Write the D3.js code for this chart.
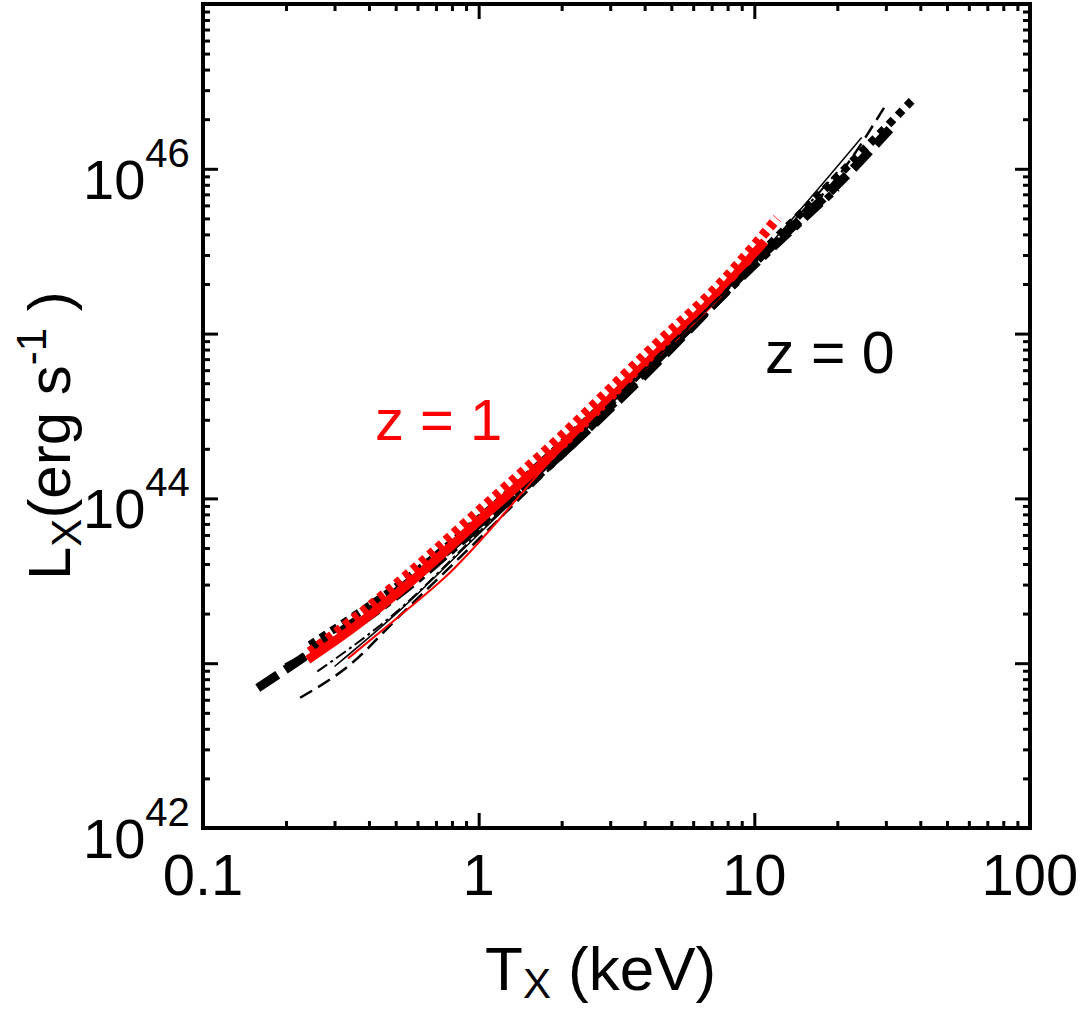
<!DOCTYPE html>
<html>
<head>
<meta charset="utf-8">
<script src="https://cdn.jsdelivr.net/npm/d3@7"></script>
<style>
body { margin: 0; background: #fff; }
text { font-family: "Liberation Sans", Arial, sans-serif; }
</style>
</head>
<body>
<div id="chart"></div>
<script>
// axis ticks
const tempTicks = [0.1, 1, 10, 100];
const tempTickLabels = ["0.1", "1", "10", "100"];
const lumDecades = [1e42, 1e43, 1e44, 1e45, 1e46, 1e47];
const lumLabelExps = [42, 44, 46];

// z = 0 curves (black)
const z0DashT = [0.158, 0.225, 0.341, 0.519, 1.01, 1.97, 4.18, 10, 22.2, 31];
const z0DashL = [7.08e42, 1.05e43, 1.70e43, 2.82e43, 7.08e43, 1.82e44, 6.03e44, 2.69e45, 9.55e45, 1.74e46];
const z0DotT = [0.244, 0.341, 0.519, 1.01, 1.97, 4.18, 10, 22.2, 37.6];
const z0DotL = [1.29e43, 1.86e43, 3.02e43, 7.59e43, 2.09e44, 6.92e44, 2.82e45, 1.07e46, 2.63e46];
const z0DashDotT = [0.2, 0.341, 0.519, 1.01, 1.97, 4.18, 10, 20];
const z0DashDotL = [9.55e42, 1.58e43, 2.63e43, 6.76e43, 1.78e44, 6.17e44, 2.57e45, 7.59e45];
const z0ThinDashT = [0.225, 0.341, 0.519, 1.01, 1.97, 4.18, 10, 22.2, 29.8];
const z0ThinDashL = [6.17e42, 9.77e42, 1.95e43, 5.75e43, 1.74e44, 6.31e44, 2.75e45, 1.12e46, 2.40e46];
const z0ThinT = [0.3, 0.519, 1.01, 1.97, 4.18, 10, 24.5];
const z0ThinL = [9.55e42, 2.1e43, 6.17e43, 1.82e44, 6.46e44, 2.75e45, 1.55e46];
const z0ThinDashDotT = [0.26, 0.519, 1.01, 1.97, 4.18, 10, 20];
const z0ThinDashDotL = [8.91e42, 2.14e43, 6.31e43, 1.86e44, 6.61e44, 2.69e45, 9.55e45];

// z = 1 curves (red)
const z1DotT = [0.244, 0.341, 0.519, 1.01, 1.97, 4.18, 7.5, 12.1];
const z1DotL = [1.17e43, 1.78e43, 3.16e43, 8.51e43, 2.34e44, 7.94e44, 2.0e45, 5.01e45];
const z1SolidT = [0.24, 0.341, 0.519, 1.01, 1.97, 4.18, 7.5, 10.9];
const z1SolidL = [1.05e43, 1.58e43, 2.75e43, 7.41e43, 2.04e44, 6.92e44, 1.78e45, 3.63e45];
const z1ThinT = [0.336, 0.519, 0.743, 1.97, 4.18, 9.25];
const z1ThinL = [1.07e43, 1.95e43, 3.24e43, 1.95e44, 6.92e44, 2.75e45];

const LEFT = 203;
const TOP = 4;
const WIDTH = 827;
const HEIGHT = 824;

function pairs(ts, ls) {
    return ts.map((t, i) => ({ t: t, l: ls[i] }));
}

const series = [
    { pts: pairs(z0DashT, z0DashL), color: "#000", width: 9, dash: "24,9" },
    { pts: pairs(z0DashDotT, z0DashDotL), color: "#000", width: 7, dash: "22,7,7,7" },
    { pts: pairs(z0DotT, z0DotL), color: "#000", width: 8, dash: "7,6" },
    { pts: pairs(z1SolidT, z1SolidL), color: "#ff0000", width: 9, dash: null },
    { pts: pairs(z1DotT, z1DotL), color: "#ff0000", width: 10, dash: "6,5" },
    { pts: pairs(z0ThinDashT, z0ThinDashL), color: "#000", width: 2.5, dash: "14,7" },
    { pts: pairs(z0ThinT, z0ThinL), color: "#000", width: 1.5, dash: null },
    { pts: pairs(z0ThinDashDotT, z0ThinDashDotL), color: "#000", width: 2, dash: "12,4,3,4" },
    { pts: pairs(z1ThinT, z1ThinL), color: "#ff0000", width: 2, dash: null }
];

let svg = d3.select("#chart")
    .append("svg")
    .attr("width", 1080)
    .attr("height", 1013)
    .append("g")
    .attr("transform", "translate(" + LEFT + "," + TOP + ")");

let xScale = d3.scaleLog().domain([0.1, 100]).range([0, WIDTH]);
let yScale = d3.scaleLog().domain([1e42, 1e47]).range([HEIGHT, 0]);

// minor ticks (2..9 of every decade)
let xMinor = xScale.ticks().filter(v => !tempTicks.includes(v));
let yMinor = yScale.ticks().filter(v => !lumDecades.some(d => Math.abs(d / v - 1) < 1e-6));

function tickAxis(axisFn, scale, values, size, transform) {
    let g = svg.append("g")
        .attr("transform", transform)
        .call(axisFn(scale).tickValues(values).tickSizeInner(-size).tickSizeOuter(0).tickFormat(""));
    g.select(".domain").remove();
    g.selectAll("line").attr("stroke", "#000").attr("stroke-width", 3);
    return g;
}

tickAxis(d3.axisBottom, xScale, tempTicks, 15, "translate(0," + HEIGHT + ")");
tickAxis(d3.axisBottom, xScale, xMinor, 7, "translate(0," + HEIGHT + ")");
tickAxis(d3.axisTop, xScale, tempTicks, 15, "translate(0,0)");
tickAxis(d3.axisTop, xScale, xMinor, 7, "translate(0,0)");
tickAxis(d3.axisLeft, yScale, lumDecades, 15, "translate(0,0)");
tickAxis(d3.axisLeft, yScale, yMinor, 7, "translate(0,0)");
tickAxis(d3.axisRight, yScale, lumDecades, 15, "translate(" + WIDTH + ",0)");
tickAxis(d3.axisRight, yScale, yMinor, 7, "translate(" + WIDTH + ",0)");

// curves
svg.append("clipPath").attr("id", "plot-clip")
    .append("rect").attr("width", WIDTH).attr("height", HEIGHT);

let line = d3.line()
    .x(d => xScale(d.t))
    .y(d => yScale(d.l))
    .curve(d3.curveMonotoneX);

svg.append("g")
    .attr("clip-path", "url(#plot-clip)")
    .selectAll("path")
    .data(series)
    .enter()
    .append("path")
    .attr("d", d => line(d.pts))
    .attr("fill", "none")
    .attr("stroke", d => d.color)
    .attr("stroke-width", d => d.width)
    .attr("stroke-dasharray", d => d.dash)
    .attr("stroke-linecap", "butt");

// frame
svg.append("rect")
    .attr("width", WIDTH)
    .attr("height", HEIGHT)
    .attr("fill", "none")
    .attr("stroke", "#000")
    .attr("stroke-width", 4);

// x tick labels
svg.append("g")
    .selectAll("text")
    .data(tempTicks)
    .enter()
    .append("text")
    .attr("x", d => xScale(d))
    .attr("y", HEIGHT + 67)
    .attr("text-anchor", "middle")
    .attr("font-size", 58)
    .text((d, i) => tempTickLabels[i]);

// y tick labels 10^n
let yLabels = svg.append("g")
    .selectAll("text")
    .data(lumLabelExps)
    .enter()
    .append("text")
    .attr("x", 83 - LEFT)
    .attr("y", d => yScale(Math.pow(10, d)) + 30)
    .attr("font-size", 56);
yLabels.append("tspan").text("10");
yLabels.append("tspan")
    .attr("dy", -32)
    .attr("font-size", 40)
    .text(d => d);

// axis titles
let xTitle = svg.append("text")
    .attr("x", 485 - LEFT)
    .attr("y", 990 - TOP)
    .attr("font-size", 62);
xTitle.append("tspan").text("T");
xTitle.append("tspan").attr("dy", 8).attr("font-size", 42).text("X");
xTitle.append("tspan").attr("dy", -8).text(" (keV)");

let yTitle = svg.append("text")
    .attr("transform", "translate(" + (70 - LEFT) + "," + (580 - TOP) + ")rotate(-90)")
    .attr("font-size", 60);
yTitle.append("tspan").text("L");
yTitle.append("tspan").attr("dy", 11).attr("font-size", 42).text("X");
yTitle.append("tspan").attr("dy", -11).text("(erg s");
yTitle.append("tspan").attr("dy", -24).attr("font-size", 42).text("-1");
yTitle.append("tspan").attr("dy", 24).text(" )");

// redshift labels
svg.append("text")
    .attr("x", 375 - LEFT)
    .attr("y", 440 - TOP)
    .attr("font-size", 58)
    .attr("fill", "#ff0000")
    .text("z = 1");

svg.append("text")
    .attr("x", 765 - LEFT)
    .attr("y", 373 - TOP)
    .attr("font-size", 59)
    .attr("fill", "#000")
    .text("z = 0");
</script>
</body>
</html>
